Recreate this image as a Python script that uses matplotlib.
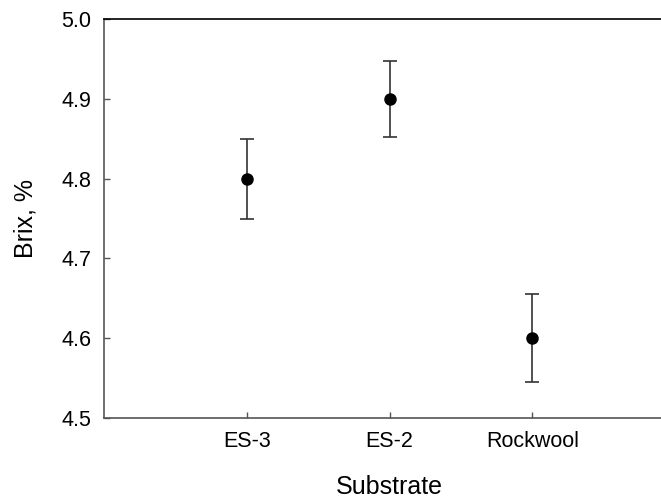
import matplotlib
matplotlib.use('Agg')
import matplotlib.pyplot as plt

plt.rcParams['font.family'] = ['Liberation Sans', 'DejaVu Sans']

# Data
substrates = ['ES-3', 'ES-2', 'Rockwool']
brix = [4.80, 4.90, 4.60]
err_low = [0.050, 0.048, 0.055]
err_high = [0.050, 0.047, 0.055]

fig = plt.figure(figsize=(6.61, 4.99), dpi=100)
ax = fig.add_axes([0.157, 0.162, 0.843, 0.800])

x = list(range(1, len(substrates) + 1))
ax.errorbar(x, brix, yerr=[err_low, err_high], fmt='o', color='black',
            ecolor='#333333', elinewidth=1.2, capsize=5, capthick=1.2,
            markersize=8)

ax.set_xlim(0, 3.9)
ax.set_ylim(4.5, 5.0)
ax.set_yticks([4.5, 4.6, 4.7, 4.8, 4.9, 5.0])
ax.set_xticks(x)
ax.set_xticklabels(substrates)

ax.spines['right'].set_visible(False)
ax.spines['left'].set_color('#555555')
ax.spines['bottom'].set_color('#555555')
ax.spines['top'].set_color('black')
for s in ax.spines.values():
    s.set_linewidth(1.2)

ax.tick_params(direction='in', length=4, width=1, color='#555555',
               labelsize=15.5)
ax.tick_params(axis='y', pad=9)
ax.tick_params(axis='x', pad=9)

ax.set_xlabel('Substrate', fontsize=18, labelpad=17)
ax.xaxis.label.set_x(0.513)
ax.set_ylabel('Brix, %', fontsize=18, labelpad=17)

fig.savefig('out.png', dpi=100)
